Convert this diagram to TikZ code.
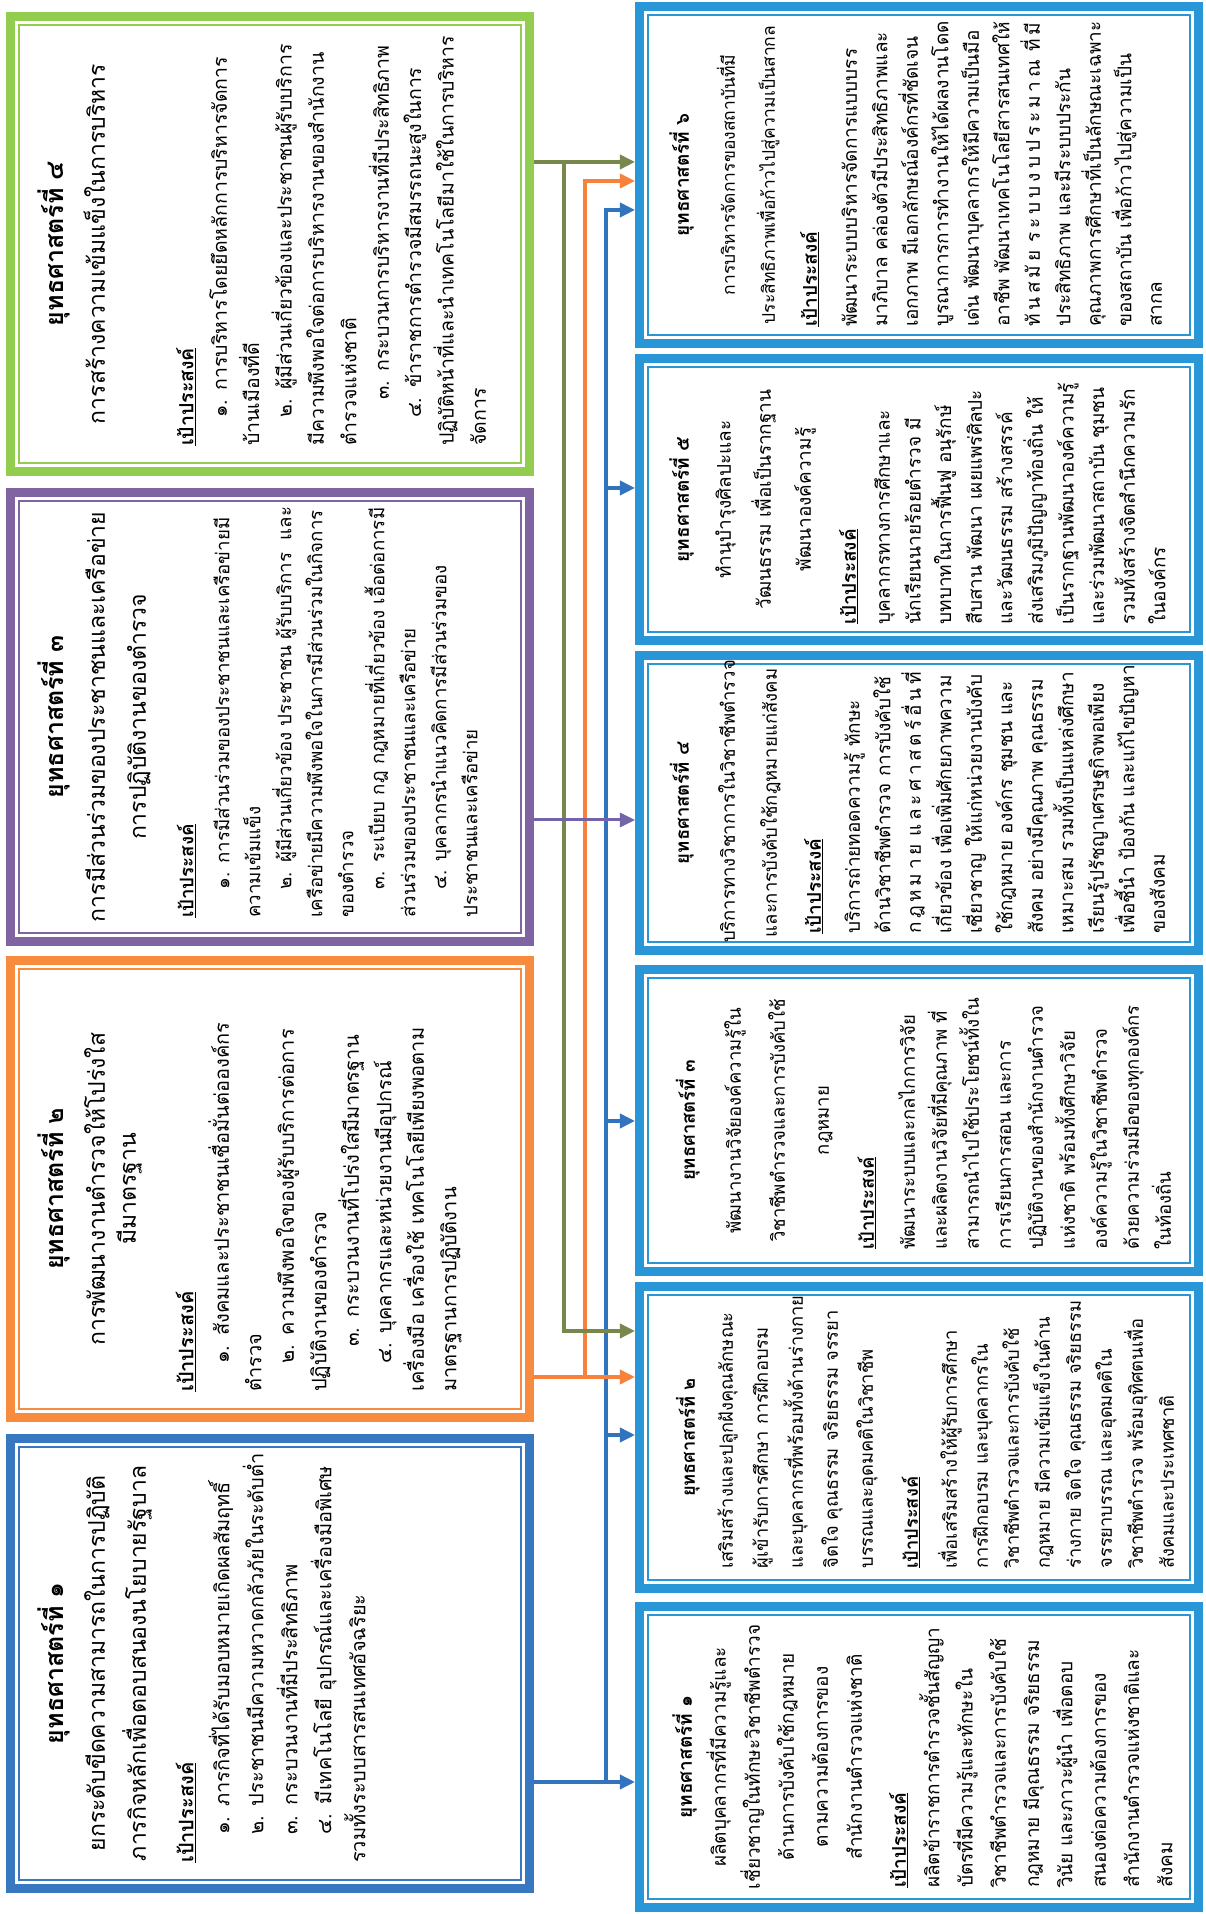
\documentclass[tikz,border=0pt]{standalone}
\usepackage{fontspec}
\setmainfont[Script=Thai]{Loma}
\usetikzlibrary{arrows.meta,calc}
\definecolor{cgreen}{RGB}{146,205,80}
\definecolor{cpurple}{RGB}{128,100,162}
\definecolor{corange}{RGB}{247,140,62}
\definecolor{cblueA}{RGB}{55,120,192}
\definecolor{cblueB}{RGB}{40,150,215}
\definecolor{agreen}{RGB}{120,135,75}
\definecolor{aorange}{RGB}{247,130,60}
\definecolor{ablue}{RGB}{50,115,190}
\definecolor{apurple}{RGB}{115,100,170}
\newlength\jw
\newcommand\setjw[1]{\global\jw=#1pt\relax}
\newcommand\jl[1]{\makebox[\jw][s]{#1}}
\newcommand\itm[1]{\mbox{\hspace{28pt}#1}}
\newcommand\lin[1]{\mbox{#1}}
\newcommand\goal{\textbf{\underline{เป้าประสงค์}}}
\newcommand\setF[2]{\fontsize{#1}{#2}\selectfont\lineskiplimit=-100pt\relax}
\newcommand\ttl[1]{{\bfseries\fontsize{25}{41}\selectfont #1}}
\newcommand\dblbox[6]{%
  \node[draw=#2, line width=9pt, inner sep=0pt, outer sep=4.5pt,
        minimum width={(#4)-(#3)-9}, minimum height={(#6)-(#5)-9},
        anchor=center] (#1) at ({((#3)+(#4))/2},{((#5)+(#6))/2}) {};
  \node[draw=#2, line width=2.4pt, inner sep=0pt, outer sep=0pt,
        minimum width={(#4)-(#3)-26.5}, minimum height={(#6)-(#5)-26.5}]
        (#1-in) at (#1.center) {};
}
\tikzset{
  hdr/.style={text width=#1, align=center, inner sep=0pt, anchor=base},
  bdy/.style={text width=#1, align=left, inner sep=0pt, anchor=base west},
  bdc/.style={text width=#1, align=left, inner sep=0pt, anchor=base},
  arr/.style={line width=3.5pt, -{Triangle[length=15pt,width=14pt]}},
}
\begin{document}
\begin{tikzpicture}[x=1pt,y=1pt]
\begin{scope}[rotate=90, transform shape]
\useasboundingbox (0,0) rectangle (1914,1205);
\fill[white] (0,0) rectangle (1914,1205);

% ---------- connector guide points ----------
\coordinate (gx1) at (1752,0);
\coordinate (gbusA) at (1752,641);
\coordinate (gbusB) at (583,641);
\coordinate (ox1) at (537,0);
\coordinate (obusA) at (537,620);
\coordinate (obusB) at (1733,620);
\coordinate (px1) at (1094,0);
\coordinate (bx1) at (132,0);
\coordinate (bbusA) at (132,599);
\coordinate (bbusB) at (1704,599);
\coordinate (bb5) at (1426,599);
\coordinate (bb3) at (793,599);
\coordinate (bb2) at (479,599);

% ---------- boxes ----------
\dblbox{t1}{cblueA}{21}{480}{671}{1199}
\dblbox{t2}{corange}{492}{958}{671}{1199}
\dblbox{t3}{cpurple}{968}{1426}{671}{1199}
\dblbox{t4}{cgreen}{1438}{1902}{671}{1199}
\dblbox{b1}{cblueB}{2}{312}{2}{570}
\dblbox{b2}{cblueB}{321}{632}{2}{570}
\dblbox{b3}{cblueB}{638}{949}{2}{570}
\dblbox{b4}{cblueB}{959}{1263}{2}{570}
\dblbox{b5}{cblueB}{1269}{1560}{2}{570}
\dblbox{b6}{cblueB}{1566}{1912}{2}{570}

% blue
\draw[arr, ablue] ($(t1.south west)!(bx1)!(t1.south east)$) -- ($(b1.north west)!(bx1)!(b1.north east)$);
\draw[arr, ablue] (bbusA) -- (bbusB) -- ($(b6.north west)!(bbusB)!(b6.north east)$);
\draw[arr, ablue] (bb5) -- ($(b5.north west)!(bb5)!(b5.north east)$);
\draw[arr, ablue] (bb3) -- ($(b3.north west)!(bb3)!(b3.north east)$);
\draw[arr, ablue] (bb2) -- ($(b2.north west)!(bb2)!(b2.north east)$);
% orange
\draw[arr, aorange] ($(t2.south west)!(ox1)!(t2.south east)$) -- ($(b2.north west)!(ox1)!(b2.north east)$);
\draw[arr, aorange] (obusA) -- (obusB) -- ($(b6.north west)!(obusB)!(b6.north east)$);
% green
\draw[arr, agreen] ($(t4.south west)!(gx1)!(t4.south east)$) -- ($(b6.north west)!(gx1)!(b6.north east)$);
\draw[arr, agreen] (gbusA) -- (gbusB) -- ($(b2.north west)!(gbusB)!(b2.north east)$);
% purple
\draw[arr, apurple, line width=3pt] ($(t3.south west)!(px1)!(t3.south east)$) -- ($(b4.north west)!(px1)!(b4.north east)$);

% ---------- top texts ----------
\node[hdr=430, font=\setF{23}{41}] (t1h) at (250.5,1141)
 {\ttl{ยุทธศาสตร์ที่ ๑}\\
  ยกระดับขีดความสามารถในการปฏิบัติ\\
  ภารกิจหลักเพื่อตอบสนองนโยบายรัฐบาล};
\node[bdy=420, font=\setF{20}{34}] (t1b) at (51,1011.6)
 {\goal\\[2pt]
  \itm{๑. ภารกิจที่ได้รับมอบหมายเกิดผลสัมฤทธิ์}\\
  \itm{๒. ประชาชนมีความหวาดกลัวภัยในระดับต่ำ}\\
  \itm{๓. กระบวนงานที่มีประสิทธิภาพ}\\
  \itm{๔. มีเทคโนโลยี อุปกรณ์และเครื่องมือพิเศษ}\\
  \lin{รวมทั้งระบบสารสนเทศอัจฉริยะ}};

\node[hdr=430, font=\setF{23}{41}] (t2h) at (725,1141)
 {\ttl{ยุทธศาสตร์ที่ ๒}\\
  การพัฒนางานตำรวจให้โปร่งใส\\[-10pt]
  มีมาตรฐาน};
\node[bdy=410, font=\setF{20}{32.5}] (t2b) at (522,1011.6)
 {\goal\\[3pt]
  \itm{๑. สังคมและประชาชนเชื่อมั่นต่อองค์กร}\\
  \lin{ตำรวจ}\\
  \itm{๒. ความพึงพอใจของผู้รับบริการต่อการ}\\
  \lin{ปฏิบัติงานของตำรวจ}\\
  \mbox{\hspace{45pt}๓. กระบวนงานที่โปร่งใสมีมาตรฐาน}\\
  \itm{๔. บุคลากรและหน่วยงานมีอุปกรณ์}\\
  \lin{เครื่องมือ เครื่องใช้ เทคโนโลยีเพียงพอตาม}\\
  \lin{มาตรฐานการปฏิบัติงาน}};

\node[hdr=430, font=\setF{23}{41}] (t3h) at (1197,1141)
 {\ttl{ยุทธศาสตร์ที่ ๓}\\
  การมีส่วนร่วมของประชาชนและเครือข่าย\\
  การปฏิบัติงานของตำรวจ};
\node[bdy=410, font=\setF{18.7}{31}] (t3b) at (996,1011.6)
 {\goal\\[5pt]
  \itm{๑. การมีส่วนร่วมของประชาชนและเครือข่ายมี}\\
  \lin{ความเข้มแข็ง}\\
  \itm{๒. ผู้มีส่วนเกี่ยวข้อง ประชาชน ผู้รับบริการ\ \ และ}\\
  \lin{เครือข่ายมีความพึงพอใจในการมีส่วนร่วมในกิจการ}\\
  \lin{ของตำรวจ}\\
  \itm{๓. ระเบียบ กฎ กฎหมายที่เกี่ยวข้อง เอื้อต่อการมี}\\
  \lin{ส่วนร่วมของประชาชนและเครือข่าย}\\
  \itm{๔. บุคลากรนำแนวคิดการมีส่วนร่วมของ}\\
  \lin{ประชาชนและเครือข่าย}};

\node[hdr=430, font=\setF{23}{41}] (t4h) at (1670,1141)
 {\ttl{ยุทธศาสตร์ที่ ๔}\\
  การสร้างความเข้มแข็งในการบริหาร};
\node[bdy=420, font=\setF{19.5}{32.4}] (t4b) at (1468,1011.6)
 {\goal\\[1pt]
  \itm{๑. การบริหารโดยยึดหลักการบริหารจัดการ}\\
  \lin{บ้านเมืองที่ดี}\\
  \itm{๒. ผู้มีส่วนเกี่ยวข้องและประชาชนผู้รับบริการ}\\
  \lin{มีความพึงพอใจต่อการบริหารงานของสำนักงาน}\\
  \lin{ตำรวจแห่งชาติ}\\
  \mbox{\hspace{46pt}๓. กระบวนการบริหารงานที่มีประสิทธิภาพ}\\
  \itm{๔. ข้าราชการตำรวจมีสมรรถนะสูงในการ}\\
  \lin{ปฏิบัติหน้าที่และนำเทคโนโลยีมาใช้ในการบริหาร}\\
  \lin{จัดการ}};

% ---------- bottom texts ----------
\node[hdr=280, font=\setF{19}{34}] (b1h) at (157,513)
 {\textbf{ยุทธศาสตร์ที่ ๑}\\
  ผลิตบุคลากรที่มีความรู้และ\\
  เชี่ยวชาญในทักษะวิชาชีพตำรวจ\\
  ด้านการบังคับใช้กฎหมาย\\
  ตามความต้องการของ\\
  สำนักงานตำรวจแห่งชาติ};
\node[bdc=262, font=\setF{19}{33.3}] (b1b) at (157,299)
 {\goal\\
  \lin{ผลิตข้าราชการตำรวจชั้นสัญญา}\\
  \lin{บัตรที่มีความรู้และทักษะใน}\\
  \lin{วิชาชีพตำรวจและการบังคับใช้}\\
  \lin{กฎหมาย มีคุณธรรม จริยธรรม}\\
  \lin{วินัย และภาวะผู้นำ เพื่อตอบ}\\
  \lin{สนองต่อความต้องการของ}\\
  \lin{สำนักงานตำรวจแห่งชาติและ}\\
  \lin{สังคม}};

\node[bdc=262, font=\setF{18.3}{35}] (b2h) at (476.5,510)
 {\setjw{262}\makebox[\jw]{\textbf{ยุทธศาสตร์ที่ ๒}}\\[3pt]
  \lin{เสริมสร้างและปลูกฝังคุณลักษณะ}\\
  \lin{ผู้เข้ารับการศึกษา การฝึกอบรม}\\
  \lin{และบุคลากรที่พร้อมทั้งด้านร่างกาย}\\
  \lin{จิตใจ คุณธรรม จริยธรรม จรรยา}\\
  \lin{บรรณและอุดมคติในวิชาชีพ}};
\node[bdc=262, font=\setF{18.3}{31}] (b2b) at (476.5,287)
 {\goal\\[8pt]
  \lin{เพื่อเสริมสร้างให้ผู้รับการศึกษา}\\
  \lin{การฝึกอบรม และบุคลากรใน}\\
  \lin{วิชาชีพตำรวจและการบังคับใช้}\\
  \lin{กฎหมาย มีความเข้มแข็งในด้าน}\\
  \lin{ร่างกาย จิตใจ คุณธรรม จริยธรรม}\\
  \lin{จรรยาบรรณ และอุดมคติใน}\\
  \lin{วิชาชีพตำรวจ พร้อมอุทิศตนเพื่อ}\\
  \lin{สังคมและประเทศชาติ}};

\node[hdr=280, font=\setF{18.5}{44}] (b3h) at (793.5,510)
 {\textbf{ยุทธศาสตร์ที่ ๓}\\[2pt]
  พัฒนางานวิจัยองค์ความรู้ใน\\
  วิชาชีพตำรวจและการบังคับใช้\\
  กฎหมาย};
\node[bdc=258, font=\setF{18.5}{32}] (b3b) at (793.5,331)
 {\setjw{258}\goal\\[9pt]
  \lin{พัฒนาระบบและกลไกการวิจัย}\\
  \jl{และผลิตงานวิจัยที่มีคุณภาพ ที่}\\
  \lin{สามารถนำไปใช้ประโยชน์ทั้งใน}\\
  \lin{การเรียนการสอน และการ}\\
  \lin{ปฏิบัติงานของสำนักงานตำรวจ}\\
  \lin{แห่งชาติ พร้อมทั้งศึกษาวิจัย}\\
  \lin{องค์ความรู้ในวิชาชีพตำรวจ}\\
  \lin{ด้วยความร่วมมือของทุกองค์กร}\\
  \lin{ในท้องถิ่น}};

\node[hdr=280, font=\setF{18.5}{42}] (b4h) at (1111,516)
 {\textbf{ยุทธศาสตร์ที่ ๔}\\[4pt]
  บริการทางวิชาการในวิชาชีพตำรวจ\\
  และการบังคับใช้กฎหมายแก่สังคม};
\node[bdc=262, font=\setF{19}{30.5}] (b4b) at (1111,384)
 {\setjw{262}\goal\\[8.5pt]
  \jl{บริการถ่ายทอดความรู้ ทักษะ}\\
  \jl{ด้านวิชาชีพตำรวจ การบังคับใช้}\\
  \jl{ก\hfil ฎ\hfil ห\hfil ม\hfil า\hfil ย\hfil\hfil แ\hfil ล\hfil ะ\hfil ศ\hfil า\hfil ส\hfil ต\hfil ร์\hfil อื่\hfil น\hfil ที่}\\
  \jl{เกี่ยวข้อง เพื่อเพิ่มศักยภาพความ}\\
  \jl{เชี่ยวชาญ ให้แก่หน่วยงานบังคับ}\\
  \jl{ใช้กฎหมาย องค์กร ชุมชน และ}\\
  \jl{สังคม อย่างมีคุณภาพ คุณธรรม}\\
  \jl{เหมาะสม รวมทั้งเป็นแหล่งศึกษา}\\
  \lin{เรียนรู้ปรัชญาเศรษฐกิจพอเพียง}\\
  \jl{เพื่อชี้นำ ป้องกัน และแก้ไขปัญหา}\\
  \lin{ของสังคม}};

\node[hdr=270, font=\setF{19}{40}] (b5h) at (1414.5,516)
 {\textbf{ยุทธศาสตร์ที่ ๕}\\[2pt]
  ทำนุบำรุงศิลปะและ\\
  วัฒนธรรม เพื่อเป็นรากฐาน\\
  พัฒนาองค์ความรู้};
\node[bdc=250, font=\setF{19}{30.6}] (b5b) at (1414.5,349)
 {\setjw{250}\goal\\[3.4pt]
  \lin{บุคลากรทางการศึกษาและ}\\
  \jl{นักเรียนนายร้อยตำรวจ มี}\\
  \jl{บทบาทในการฟื้นฟู อนุรักษ์}\\
  \jl{สืบสาน พัฒนา เผยแพร่ศิลปะ}\\
  \jl{และวัฒนธรรม สร้างสรรค์}\\
  \jl{ส่งเสริมภูมิปัญญาท้องถิ่น ให้}\\
  \lin{เป็นรากฐานพัฒนาองค์ความรู้}\\
  \jl{และร่วมพัฒนาสถาบัน ชุมชน}\\
  \lin{รวมทั้งสร้างจิตสำนึกความรัก}\\
  \lin{ในองค์กร}};

\node[hdr=320, font=\setF{17.5}{40}] (b6h) at (1739,516)
 {{\fontsize{19}{40}\selectfont\textbf{ยุทธศาสตร์ที่ ๖}}\\[6pt]
  การบริหารจัดการของสถาบันที่มี\\
  ประสิทธิภาพเพื่อก้าวไปสู่ความเป็นสากล};
\node[bdc=304, font=\setF{19}{30.5}] (b6b) at (1739,388)
 {\setjw{304}\goal\\[9.5pt]
  \lin{พัฒนาระบบบริหารจัดการแบบบรร}\\
  \jl{มาภิบาล คล่องตัวมีประสิทธิภาพและ}\\
  \jl{เอกภาพ มีเอกลักษณ์องค์กรที่ชัดเจน}\\
  \lin{บูรณาการการทำงานให้ได้ผลงานโดด}\\
  \jl{เด่น พัฒนาบุคลากรให้มีความเป็นมือ}\\
  \jl{อาชีพ พัฒนาเทคโนโลยีสารสนเทศให้}\\
  \jl{ทั\hfil น\hfil ส\hfil มั\hfil ย\hfil\hfil ร\hfil ะ\hfil บ\hfil บ\hfil ง\hfil บ\hfil ป\hfil ร\hfil ะ\hfil ม\hfil า\hfil ณ\hfil\hfil ที่\hfil มี}\\
  \jl{ประสิทธิภาพ และมีระบบประกัน}\\
  \lin{คุณภาพการศึกษาที่เป็นลักษณะเฉพาะ}\\
  \jl{ของสถาบัน เพื่อก้าวไปสู่ความเป็น}\\
  \lin{สากล}};
\end{scope}
\end{tikzpicture}
\end{document}
